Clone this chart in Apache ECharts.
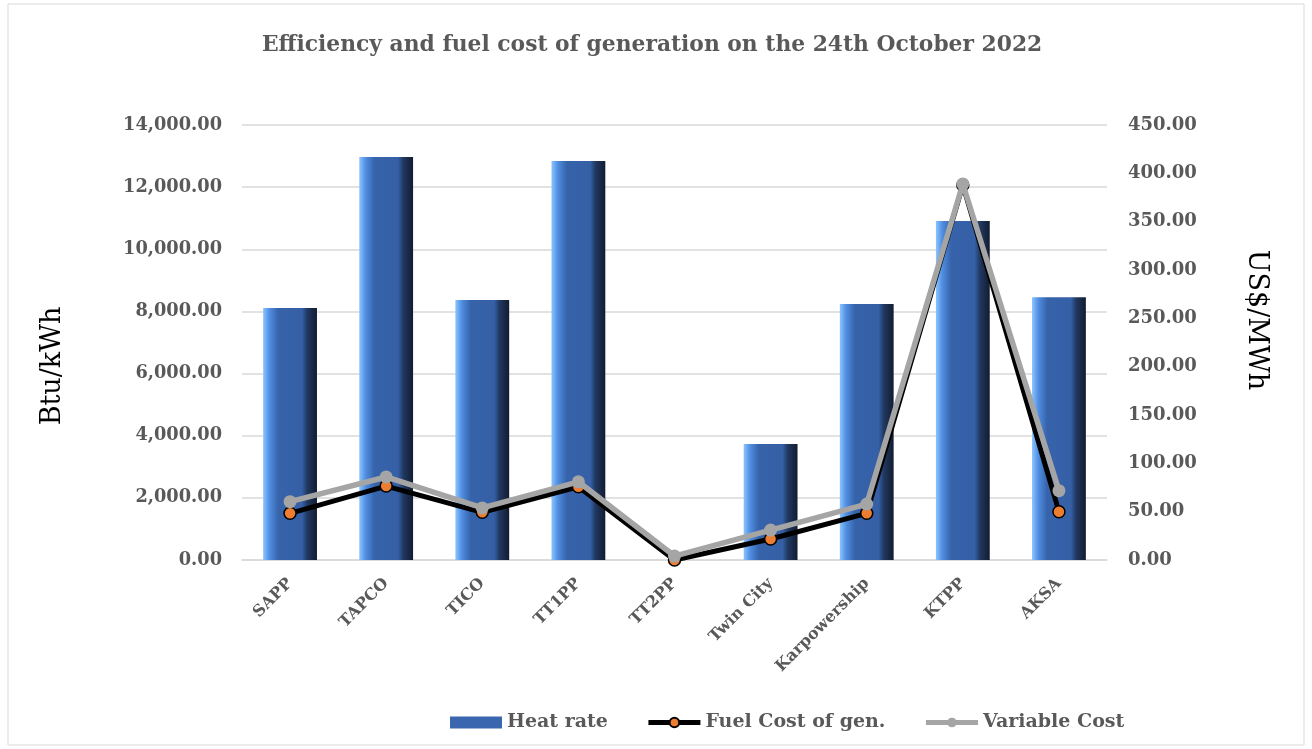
<!DOCTYPE html>
<html>
<head>
<meta charset="utf-8">
<script src="https://cdn.jsdelivr.net/npm/echarts@6/dist/echarts.min.js"></script>
<style>
  html, body { margin: 0; padding: 0; background: #fff; }
  #main { width: 1312px; height: 749px; }
</style>
</head>
<body>
<div id="main"></div>
<script>
// data
var plants = ['SAPP', 'TAPCO', 'TICO', 'TT1PP', 'TT2PP', 'Twin City', 'Karpowership', 'KTPP', 'AKSA'];
var heatRate = [8110, 12970, 8370, 12840, 0, 3730, 8240, 10910, 8460];
var fuelCost = [48.3, 76.5, 49.3, 75.8, 0, 21.7, 48.3, 388, 50];
var variableCost = [60.3, 85.9, 53.9, 80.9, 4.1, 31, 57.9, 389, 71.7];

var FONT = '"DejaVu Serif", "Liberation Serif", serif';
var GREY_TXT = '#595959';

function fmt(v) {
  return v.toLocaleString('en-US', { minimumFractionDigits: 2, maximumFractionDigits: 2 });
}

var chart = echarts.init(document.getElementById('main'));

// 3D-ish bar fill
var barFill = new echarts.graphic.LinearGradient(0, 0, 1, 0, [
  { offset: 0, color: '#8cc4ff' },
  { offset: 0.12, color: '#4f8ee0' },
  { offset: 0.28, color: '#3763ab' },
  { offset: 0.72, color: '#3560a6' },
  { offset: 0.82, color: '#203860' },
  { offset: 1, color: '#121c30' }
]);

var option = {
  backgroundColor: '#ffffff',
  animation: false,
  title: {
    text: 'Efficiency and fuel cost of generation on the 24th October 2022',
    left: 257,
    top: 29,
    textStyle: {
      fontFamily: FONT,
      fontSize: 21.8,
      fontWeight: 'bold',
      color: GREY_TXT
    }
  },
  legend: {
    bottom: 12,
    left: 445,
    itemGap: 38,
    itemWidth: 52,
    itemHeight: 12,
    textStyle: { fontFamily: FONT, fontSize: 19, fontWeight: 'bold', color: GREY_TXT },
    data: [
      { name: 'Heat rate', icon: 'rect', itemStyle: { color: '#3a66b0' } },
      { name: 'Fuel Cost of gen.', lineStyle: { width: 5 } },
      { name: 'Variable Cost', lineStyle: { width: 5 } }
    ]
  },
  graphic: [{
    type: 'rect',
    shape: { x: 8, y: 4, width: 1296, height: 741 },
    style: { fill: 'none', stroke: '#d9d9d9', lineWidth: 1 },
    silent: true
  }, {
    // axis titles
    type: 'text',
    x: 53, y: 366, rotation: Math.PI / 2,
    style: { text: 'Btu/kWh', font: '27px "DejaVu Serif", serif', fill: '#000', align: 'center', verticalAlign: 'middle' }
  }, {
    type: 'text',
    x: 1256, y: 320, rotation: -Math.PI / 2,
    style: { text: 'US$/MWh', font: '27px "DejaVu Serif", serif', fill: '#000', align: 'center', verticalAlign: 'middle' }
  }],
  grid: { left: 242, right: 205, top: 125, bottom: 189 },
  xAxis: {
    type: 'category',
    data: plants,
    axisLine: { show: true, lineStyle: { color: '#d9d9d9', width: 1.5 } },
    axisTick: { show: false },
    axisLabel: {
      rotate: 45,
      interval: 0,
      margin: 21,
      fontFamily: FONT,
      fontSize: 16,
      fontWeight: 'bold',
      color: GREY_TXT
    }
  },
  yAxis: [{
    type: 'value',
    min: 0,
    max: 14000,
    interval: 2000,
    axisLine: { show: false },
    axisTick: { show: false },
    splitLine: { lineStyle: { color: '#d9d9d9', width: 1.5 } },
    axisLabel: {
      margin: 20,
      fontFamily: FONT,
      fontSize: 17.8,
      fontWeight: 'bold',
      color: GREY_TXT,
      formatter: fmt
    }
  }, {
    type: 'value',
    min: 0,
    max: 450,
    interval: 50,
    axisLine: { show: false },
    axisTick: { show: false },
    splitLine: { show: false },
    axisLabel: {
      margin: 21,
      fontFamily: FONT,
      fontSize: 18,
      fontWeight: 'bold',
      color: GREY_TXT,
      formatter: fmt
    }
  }],
  series: [{
    name: 'Heat rate',
    type: 'bar',
    yAxisIndex: 0,
    barWidth: '56%',
    data: heatRate,
    itemStyle: { color: barFill }
  }, {
    name: 'Fuel Cost of gen.',
    type: 'line',
    yAxisIndex: 1,
    data: fuelCost,
    symbol: 'circle',
    symbolSize: 12,
    lineStyle: { color: '#000000', width: 5 },
    itemStyle: { color: '#ed7d31', borderColor: '#000000', borderWidth: 1.5 },
    z: 3
  }, {
    name: 'Variable Cost',
    type: 'line',
    yAxisIndex: 1,
    data: variableCost,
    symbol: 'circle',
    symbolSize: 13,
    lineStyle: { color: '#a5a5a5', width: 5.5 },
    itemStyle: { color: '#a5a5a5' },
    z: 4
  }]
};

chart.setOption(option);
</script>
</body>
</html>
